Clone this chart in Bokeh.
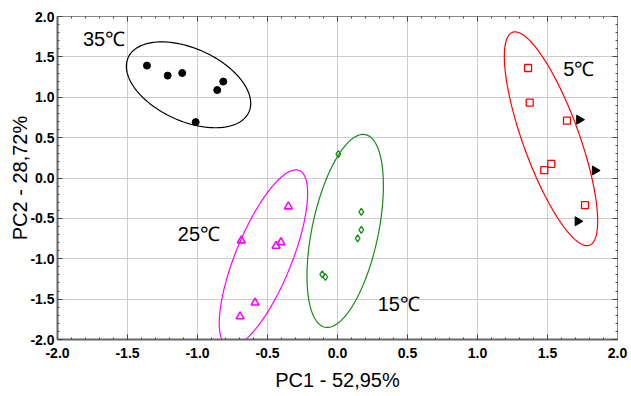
import numpy as np
from bokeh.plotting import figure
from bokeh.models import Range1d, SingleIntervalTicker, PrintfTickFormatter, LinearAxis, CustomJSTickFormatter
from bokeh.core.properties import value
from bokeh.embed import file_html
from bokeh.resources import INLINE

# ---- data ----
x35 = [-1.361, -1.213, -1.109, -0.816, -0.859, -1.013]
y35 = [1.392, 1.268, 1.300, 1.194, 1.089, 0.692]

x25 = [-0.351, -0.687, -0.439, -0.404, -0.589, -0.696]
y25 = [-0.354, -0.775, -0.841, -0.797, -1.545, -1.715]

x15 = [0.006, 0.170, 0.170, 0.144, -0.109, -0.087]
y15 = [0.295, -0.419, -0.643, -0.747, -1.194, -1.226]

x5 = [1.361, 1.373, 1.639, 1.527, 1.477, 1.768]
y5 = [1.362, 0.933, 0.710, 0.176, 0.097, -0.337]

x_arrow = [1.727, 1.839, 1.716]
y_arrow = [0.722, 0.093, -0.536]

# confidence ellipses: centre and two conjugate semi-diameters (data units)
ell_names = ["35", "25", "15", "5"]
ell_cx = [-1.064, -0.529, 0.055, 1.525]
ell_cy = [1.154, -0.995, -0.655, 0.486]
ell_ux = [0.431, 0.2556, 0.1446, 0.2748]
ell_uy = [-0.338, 1.0878, 1.192, -1.3183]
ell_vx = [0.1067, -0.1852, -0.2314, 0.1887]
ell_vy = [0.4105, 0.1313, 0.0847, 0.1187]
ell_colors = ["black", "#ff00ff", "#168c16", "#ff0000"]

labels = ["35℃", "25℃", "15℃", "5℃"]
label_x = [-1.818, -1.141, 0.287, 1.613]
label_y = [1.716, -0.693, -1.561, 1.349]

x_title = "PC1 - 52,95%"
y_title = "PC2 - 28,72%"

FONT = "Liberation Sans"

p = figure(width=631, height=396, output_backend="svg", toolbar_location=None,
           x_range=Range1d(-2, 2), y_range=Range1d(-2, 2),
           min_border_left=57, min_border_right=14, min_border_top=16, min_border_bottom=57)
p.background_fill_color = "white"
p.outline_line_color = "#666666"
p.outline_line_width = 1

for ax, lab in ((p.xaxis[0], x_title), (p.yaxis[0], y_title)):
    ax.ticker = SingleIntervalTicker(interval=0.5, num_minor_ticks=5)
    ax.formatter = PrintfTickFormatter(format="%.1f")
    ax.axis_label = lab
    ax.axis_label_text_font = FONT
    ax.axis_label_text_font_size = "20px"
    ax.axis_label_text_font_style = "normal"
    ax.axis_label_text_color = "black"
    ax.major_label_text_font = FONT
    ax.major_label_text_font_size = "14px"
    ax.major_label_text_font_style = "bold"
    ax.major_label_text_color = "black"
    ax.major_tick_in = 5
    ax.major_tick_out = 0
    ax.minor_tick_in = 2
    ax.minor_tick_out = 0
    ax.axis_line_color = "#666666"
    ax.axis_line_width = 2
    ax.major_tick_line_color = "#444444"
    ax.minor_tick_line_color = "#444444"

p.xaxis[0].major_label_standoff = 8
p.xaxis[0].axis_label_standoff = 8
p.yaxis[0].major_label_standoff = 3
p.yaxis[0].axis_label_standoff = -4

for side in ("right", "above"):
    ax = LinearAxis(ticker=SingleIntervalTicker(interval=0.5, num_minor_ticks=5),
                    formatter=CustomJSTickFormatter(code="return ''"))
    ax.major_label_standoff = 0
    ax.major_tick_in = 5
    ax.major_tick_out = 0
    ax.minor_tick_in = 2
    ax.minor_tick_out = 0
    ax.axis_line_color = "#888888"
    ax.major_tick_line_color = "#444444"
    ax.minor_tick_line_color = "#444444"
    ax.major_label_text_font_size = "1px"
    p.add_layout(ax, side)

p.grid.grid_line_color = "#cccccc"
p.grid.grid_line_width = 1
p.grid.ticker = SingleIntervalTicker(interval=0.5)

# ellipses
t = np.linspace(0, 2 * np.pi, 240)
for i in range(len(ell_names)):
    ex = ell_cx[i] + ell_ux[i] * np.cos(t) + ell_vx[i] * np.sin(t)
    ey = ell_cy[i] + ell_uy[i] * np.cos(t) + ell_vy[i] * np.sin(t)
    p.line(ex, ey, line_color=ell_colors[i], line_width=1.2)

# points
p.scatter(x35, y35, marker="circle", size=7, fill_color="black", line_color="black")
p.scatter(x25, y25, marker="triangle", size=8, fill_color=None, line_color="#ff00ff", line_width=1.6)
p.scatter(x15, y15, marker="diamond", size=7, fill_color=None, line_color="#168c16", line_width=1.3)
p.scatter(x5, y5, marker="square", size=7, fill_color=None, line_color="#ff0000", line_width=1.3)
p.scatter(x_arrow, y_arrow, marker="triangle", size=9, angle=-np.pi / 2,
          fill_color="black", line_color="black")

p.text(label_x, label_y, text=labels, text_font=value(FONT), text_font_size="20px",
       text_color="black", text_baseline="middle", text_align="left")

open("out.html", "w").write(file_html(p, INLINE))
